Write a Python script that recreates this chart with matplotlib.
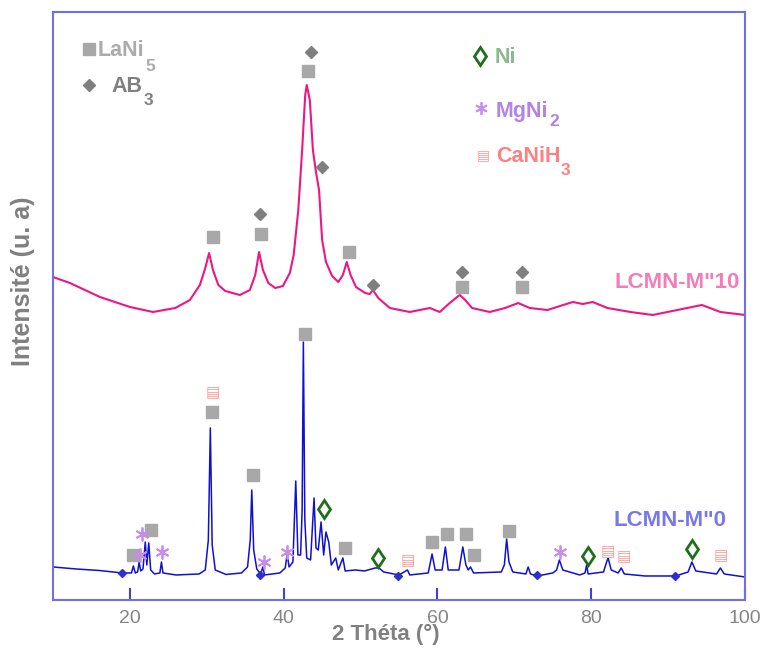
import matplotlib
matplotlib.use("Agg")
import matplotlib.pyplot as plt

plt.rcParams['font.family'] = ['Liberation Sans', 'DejaVu Sans']

# traced diffractograms (2theta in degrees, intensity in arbitrary units)
m10_x = [10.0, 12.2, 16.1, 20.0, 23.0, 25.9, 27.8, 29.1, 29.8, 30.3, 30.8, 31.5,
         32.4, 34.3, 35.6, 36.3, 36.8, 37.3, 38.0, 38.9, 39.9, 40.8, 41.3, 41.9,
         42.4, 42.8, 43.0, 43.4, 43.8, 44.2, 44.6, 45.0, 45.5, 46.3, 47.1, 47.7,
         48.2, 48.7, 49.4, 50.6, 51.2, 51.6, 52.3, 53.8, 56.4, 59.0, 60.3, 61.6,
         62.4, 62.9, 63.6, 64.5, 66.8, 68.8, 70.5, 72.0, 74.3, 77.6, 78.9, 80.2,
         82.1, 85.1, 88.0, 91.2, 94.4, 96.8, 100.0]
m10_y = [323, 317, 303, 293, 288, 292, 300, 315, 332, 347, 330, 315,
         309, 305, 310, 325, 348, 330, 317, 312, 314, 327, 345, 390,
         450, 505, 515, 500, 450, 428, 410, 360, 338, 324, 318, 325,
         338, 325, 313, 307, 306, 310, 302, 292, 288, 292, 288, 297,
         302, 305, 300, 292, 288, 292, 297, 292, 290, 298, 296, 298,
         292, 288, 285, 290, 295, 288, 285]

m0_x = [10.0, 13.0, 16.0, 19.0, 20.2, 20.45, 20.7, 21.0, 21.2, 21.4, 21.7, 22.0,
        22.2, 22.45, 22.7, 23.2, 23.9, 24.1, 24.3, 26.0, 29.0, 29.8, 30.2, 30.46,
        30.7, 31.1, 32.5, 34.5, 35.3, 35.65, 35.85, 36.1, 36.5, 37.0, 37.3, 37.5,
        39.5, 40.2, 40.45, 40.7, 41.2, 41.57, 41.85, 42.2, 42.4, 42.56, 42.75, 43.0,
        43.5, 43.95, 44.2, 44.5, 44.86, 45.2, 45.5, 45.86, 46.2, 46.77, 47.1, 47.7,
        48.0, 49.3, 50.5, 51.9, 52.4, 53.0, 55.0, 56.1, 56.4, 58.8, 59.3, 59.7,
        60.6, 61.03, 61.4, 62.8, 63.3, 63.7, 64.0, 64.3, 64.7, 68.3, 68.7, 69.0,
        69.3, 69.8, 71.5, 71.8, 72.1, 73.0, 75.0, 75.5, 75.86, 76.3, 78.5, 79.2,
        79.4, 79.6, 81.6, 82.0, 82.2, 82.6, 83.5, 83.9, 84.3, 87.0, 91.0, 92.6,
        93.1, 93.6, 96.3, 96.8, 97.3, 100.0]
m0_y = [33, 31, 29.5, 27, 27, 34, 27, 28, 38, 29, 31, 58,
        35, 57, 30, 26, 27, 38, 27, 25, 26, 30, 60, 172,
        55, 30, 25.5, 27, 33, 60, 110, 50, 31, 26, 33, 25,
        27, 32, 46, 33, 38, 119, 45, 45, 90, 258, 80, 42,
        40, 102, 52, 50, 78, 45, 68, 58, 35, 42, 30, 42,
        29, 30, 29, 32, 32, 28, 25, 30, 25, 27, 46, 30,
        30, 53, 30, 30, 53, 35, 30, 33, 27, 28, 35, 61,
        38, 28, 26, 33, 26, 24, 27, 30, 40, 30, 25, 27,
        35, 26, 28, 38, 42, 30, 27, 32, 26, 24, 24, 28,
        38, 29, 26, 32, 26, 23]
m0_dots_x = [19.0, 36.9, 54.9, 73.0, 90.9]
m0_dots_y = [27, 25, 24, 25, 24]

# phase markers
up_sq_x = [30.77, 37.02, 43.21, 48.50, 63.24, 70.97]
up_sq_y = [363, 366, 529, 348, 313, 313]
up_ab3_x = [36.93, 43.52, 44.95, 51.66, 63.24, 70.97]
up_ab3_y = [386, 548, 433, 315, 328, 328]

lo_sq_x = [20.45, 22.71, 30.72, 35.98, 42.73, 48.02, 59.26, 61.25, 63.72, 64.72, 69.28]
lo_sq_y = [45, 70, 188, 125, 266, 52, 58, 66, 66, 45, 69]
lo_mg_x = [21.32, 21.62, 24.22, 37.44, 40.40, 75.95]
lo_mg_y = [45, 66, 48, 38, 48, 48]
lo_ni_x = [45.29, 52.28, 79.55, 93.08]
lo_ni_y = [91, 42, 44, 51]
lo_ca_x = [30.72, 56.18, 82.15, 84.18, 96.89]
lo_ca_y = [207, 39, 48, 43, 44]

c_sq = '#A8A8A8'
c_ab3 = '#7F7F7F'
c_ni = '#1E6E1E'
c_mg = '#C88CEE'
c_ca = '#FF9A9A'

fig = plt.figure(figsize=(7.63, 6.53), dpi=100)
ax = fig.add_axes([0.0695, 0.0812, 0.9069, 0.9004])

ax.plot(m10_x, m10_y, color='#EE1681', lw=1.5)
ax.plot(m0_x, m0_y, color='#1010D0', lw=1.1)
ax.plot(m0_dots_x, m0_dots_y, ls='none', marker='D', ms=4, color='#3030C8')

ax.plot(up_sq_x, up_sq_y, ls='none', marker='s', ms=8.5, color=c_sq)
ax.plot(up_ab3_x, up_ab3_y, ls='none', marker='D', ms=6.3, color=c_ab3)
ax.plot(lo_sq_x, lo_sq_y, ls='none', marker='s', ms=8.5, color=c_sq)
ax.plot(lo_mg_x, lo_mg_y, ls='none', marker=(6, 2, 0), ms=10, mew=1.3, color=c_mg)
ax.plot(lo_ni_x, lo_ni_y, ls='none', marker='d', ms=9.5, mfc='none', mew=2, color=c_ni)
for x, y in zip(lo_ca_x, lo_ca_y):
    ax.text(x, y, '\u25a4', color=c_ca, fontsize=11, ha='center', va='center',
            family='DejaVu Sans')

# legend drawn by hand
ax.plot([14.68], [551], ls='none', marker='s', ms=8.5, color=c_sq)
ax.plot([14.68], [515], ls='none', marker='D', ms=6, color=c_ab3)
ax.plot([65.54], [544], ls='none', marker='d', ms=9.5, mfc='none', mew=2, color=c_ni)
ax.plot([65.67], [492], ls='none', marker=(6, 2, 0), ms=9, mew=1.3, color=c_mg)
ax.text(65.93, 445, '\u25a4', color=c_ca, fontsize=10, ha='center', va='center',
        family='DejaVu Sans')

def label(x, y, main, sub, drop, color):
    t = ax.text(x, y, main, color=color, fontsize=15.5, fontweight='bold',
                va='baseline')
    if sub:
        ax.annotate(sub, xy=(1, 0), xycoords=t, xytext=(0.5, -drop),
                    textcoords='offset points', color=color, fontsize=12.5,
                    fontweight='bold', va='baseline')

label(15.85, 544, 'LaNi', '5', 7, '#ABABAB')
label(17.64, 508, 'AB', '3', 5.5, '#808080')
label(67.40, 537, 'Ni', None, 0, '#8DBA8D')
label(67.63, 483, 'MgNi', '2', 3, '#B483E6')
label(67.58, 438, 'CaNiH', '3', 5.5, '#FF8080')

ax.text(99.37, 312, 'LCMN-M"10', color='#F47CB9', fontsize=16, fontweight='bold',
        ha='right', va='baseline')
ax.text(97.63, 74, 'LCMN-M"0', color='#7878E6', fontsize=16, fontweight='bold',
        ha='right', va='baseline')

ax.set_xlim(10, 100)
ax.set_ylim(0, 588)
ax.set_xticks([20, 40, 60, 80, 100])
ax.set_yticks([])
ax.tick_params(axis='x', direction='in', length=9, width=1.5, color='#4040D8',
               labelsize=14, labelcolor='#858585', pad=7)
for s in ax.spines.values():
    s.set_color('#7070E0')
    s.set_linewidth(1.5)

fig.text(0.506, 0.012, '2 Théta (°)', color='#808080', fontsize=16, fontweight='bold',
         ha='center', va='bottom')
fig.text(0.030, 0.570, 'Intensité (u. a)', color='#808080', fontsize=18,
         fontweight='bold', rotation=90, ha='center', va='center')

fig.savefig('out.png', dpi=100)
